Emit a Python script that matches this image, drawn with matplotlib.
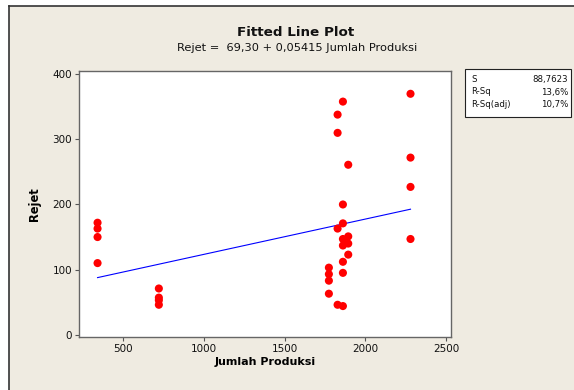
import numpy as np
import matplotlib
matplotlib.use("Agg")
import matplotlib.pyplot as plt
from matplotlib.patches import Rectangle
from matplotlib.lines import Line2D

# ---- data ----
jumlah_produksi = [340, 340, 340, 340,
                   720, 720, 720, 720,
                   1774, 1774, 1774, 1774,
                   1828, 1828, 1828, 1828,
                   1861, 1861, 1861, 1861, 1861, 1861, 1861, 1861,
                   1894, 1894, 1894, 1894,
                   2280, 2280, 2280, 2280]
rejet = [172, 163, 150, 110,
         71, 57, 53, 46,
         103, 93, 83, 63,
         338, 310, 163, 46,
         358, 200, 171, 147, 137, 112, 95, 44,
         261, 151, 140, 123,
         370, 272, 227, 147]
intercept = 69.30
slope = 0.05415
stat_labels = ["S", "R-Sq", "R-Sq(adj)"]
stat_values = ["88,7623", "13,6%", "10,7%"]
x_ticks = [500, 1000, 1500, 2000, 2500]
y_ticks = [0, 100, 200, 300, 400]

W, H = 574, 390
fig = plt.figure(figsize=(W / 100, H / 100), dpi=100)
fig.patch.set_facecolor("white")
beige = "#EFEBE1"
fig.add_artist(Rectangle((9 / W, 0), 1, 1 - 6 / H, transform=fig.transFigure,
                         facecolor=beige, edgecolor="none", zorder=-10))
fig.add_artist(Line2D([9 / W, 1], [1 - 6 / H, 1 - 6 / H], transform=fig.transFigure,
                      color="#333333", lw=1.2))
fig.add_artist(Line2D([9 / W, 9 / W], [0, 1 - 6 / H], transform=fig.transFigure,
                      color="#333333", lw=1.2))

left, right, top, bottom = 79, 451, 71, 337
ax = fig.add_axes([left / W, 1 - bottom / H, (right - left) / W, (bottom - top) / H])
ax.set_facecolor("white")

x = np.array(jumlah_produksi, dtype=float)
y = np.array(rejet, dtype=float)
ax.scatter(x, y, s=34, color="#FF0000", edgecolors="none", zorder=3)
xf = np.array([x.min(), x.max()])
ax.plot(xf, intercept + slope * xf, color="#0000FF", lw=0.8, zorder=2)

ax.set_xlim(225, 2531)
ax.set_ylim(-3.5, 405)
ax.set_xticks(x_ticks)
ax.set_yticks(y_ticks)
ax.tick_params(direction="out", length=3, width=0.8, color="#555555",
               labelsize=7.5, labelcolor="#111111", pad=2)
for s in ax.spines.values():
    s.set_color("#666666")
    s.set_linewidth(1.0)

ax.set_xlabel("Jumlah Produksi", fontsize=8, fontweight="bold", labelpad=2)
ax.set_ylabel("Rejet", fontsize=8.3, fontweight="bold", labelpad=8)

fig.text(296 / W, 1 - 33 / H, "Fitted Line Plot", ha="center", va="center",
         fontsize=9.7, fontweight="bold", color="#111111")
fig.text(297 / W, 1 - 48 / H, "Rejet =  69,30 + 0,05415 Jumlah Produksi",
         ha="center", va="center", fontsize=8.2, color="#111111")

# stats box
fig.add_artist(Rectangle((465 / W, 1 - 117 / H), (571 - 465) / W, (117 - 69) / H,
                         transform=fig.transFigure, facecolor="white",
                         edgecolor="#222222", lw=0.8))
row_y = [79.5, 92, 104.5]
for lab, val, ry in zip(stat_labels, stat_values, row_y):
    fig.text(471 / W, 1 - ry / H, lab, ha="left", va="center", fontsize=6.2, color="#111111")
    fig.text(568 / W, 1 - ry / H, val, ha="right", va="center", fontsize=6.2, color="#111111")

fig.savefig("out.png", dpi=100, facecolor=fig.get_facecolor())
